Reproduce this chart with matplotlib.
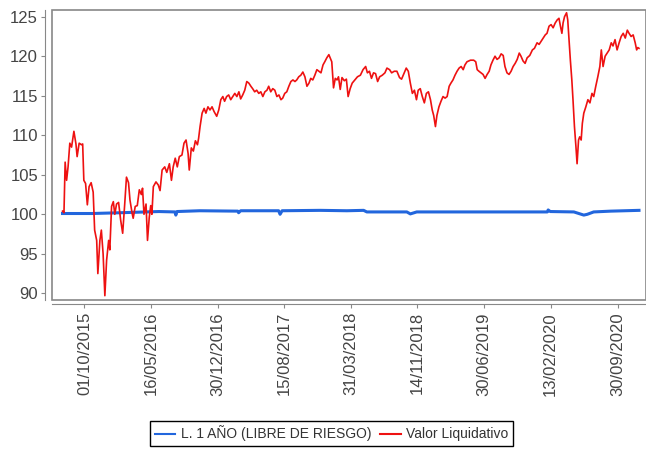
import numpy as np
import pandas as pd
import matplotlib
matplotlib.use("Agg")
import matplotlib.pyplot as plt
import matplotlib.dates as mdates
from matplotlib.lines import Line2D
from matplotlib.patches import Rectangle

# series start date; offsets below are days from this date
start_date = "2015-07-18"

# Valor Liquidativo (red)
red_days = [0, 5, 9, 14, 19, 25, 31, 39, 46, 50, 57, 65, 69, 73, 79, 85, 91, 98,
            105, 110, 117, 121, 128, 133, 139, 145, 151, 158, 162, 168, 174, 179,
            185, 192, 199, 206, 213, 219, 226, 231, 238, 242, 249, 256, 263, 270,
            274, 279, 286, 291, 297, 302, 306, 311, 320, 328, 334, 341, 350, 357,
            366, 373, 379, 386, 393, 400, 409, 416, 423, 430, 434, 441, 448, 455,
            462, 466, 471, 478, 485, 491, 498, 505, 512, 519, 528, 535, 542, 549,
            555, 562, 569, 576, 583, 590, 597, 604, 610, 617, 624, 631, 638, 645,
            651, 658, 665, 672, 679, 686, 693, 700, 706, 713, 720, 727, 734, 741,
            748, 754, 761, 768, 775, 782, 789, 796, 802, 809, 816, 823, 830, 837,
            844, 850, 857, 864, 871, 878, 885, 892, 898, 905, 912, 922, 928, 934,
            940, 945, 951, 957, 965, 972, 978, 985, 992, 1001, 1010, 1020, 1029,
            1038, 1044, 1051, 1058, 1065, 1072, 1079, 1086, 1095, 1104, 1111, 1120,
            1127, 1136, 1145, 1154, 1161, 1168, 1177, 1184, 1191, 1198, 1205, 1212,
            1218, 1225, 1232, 1239, 1246, 1253, 1260, 1266, 1271, 1277, 1282, 1289,
            1296, 1303, 1310, 1317, 1324, 1330, 1337, 1344, 1351, 1358, 1365, 1372,
            1378, 1385, 1397, 1408, 1415, 1420, 1426, 1433, 1440, 1447, 1454, 1461,
            1467, 1474, 1481, 1488, 1495, 1502, 1509, 1515, 1522, 1529, 1536, 1543,
            1550, 1557, 1564, 1570, 1577, 1584, 1591, 1600, 1609, 1616, 1625, 1632,
            1639, 1646, 1653, 1659, 1666, 1673, 1680, 1687, 1694, 1700, 1705, 1710,
            1714, 1719, 1726, 1730, 1735, 1739, 1744, 1748, 1753, 1758, 1762, 1767,
            1771, 1776, 1780, 1785, 1792, 1799, 1806, 1813, 1819, 1826, 1833, 1840,
            1845, 1851, 1858, 1865, 1872, 1879, 1885, 1892, 1899, 1906, 1913, 1920,
            1927, 1934, 1940, 1947, 1954, 1961, 1966, 1970, 1974]
red_vals = [100.4, 100.2, 106.6, 104.3, 106.0, 109.0, 108.5, 110.5, 108.9, 107.3,
            109.0, 108.8, 108.9, 104.3, 103.9, 101.2, 103.5, 104.0, 102.8, 98.0,
            96.7, 92.5, 96.7, 98.0, 95.0, 89.7, 94.2, 96.7, 95.5, 101.0, 101.6,
            100.0, 101.3, 101.5, 99.3, 97.6, 101.3, 104.7, 104.0, 101.8, 100.2,
            99.5, 101.0, 101.1, 103.1, 102.5, 103.3, 100.0, 101.3, 96.7, 99.6,
            101.1, 100.0, 103.5, 104.1, 103.7, 103.0, 105.6, 106.0, 105.3, 106.4,
            104.3, 106.0, 107.1, 106.0, 107.3, 107.5, 109.0, 109.4, 107.7, 105.6,
            108.4, 108.0, 109.3, 108.8, 109.6, 111.1, 112.8, 113.4, 112.8, 113.6,
            113.2, 113.6, 113.0, 112.4, 113.2, 114.5, 114.9, 114.3, 114.9, 115.1,
            114.5, 114.9, 115.3, 114.9, 115.5, 114.6, 115.1, 115.7, 116.8, 116.6,
            116.2, 115.9, 115.5, 115.7, 115.3, 115.5, 114.9, 115.5, 115.7, 116.2,
            115.5, 115.9, 115.7, 114.9, 115.1, 114.5, 114.7, 115.3, 115.5, 116.2,
            116.8, 117.0, 116.8, 117.0, 117.4, 117.6, 118.0, 117.4, 116.2, 116.6,
            117.2, 117.0, 117.6, 118.3, 118.1, 117.9, 118.9, 119.3, 119.8, 120.2,
            119.3, 116.0, 117.2, 117.0, 117.4, 115.8, 117.3, 116.9, 117.1, 114.9,
            115.9, 116.6, 117.0, 117.4, 117.6, 118.3, 118.7, 117.9, 118.1, 117.2,
            117.9, 117.8, 116.8, 117.4, 117.6, 117.9, 118.5, 118.3, 117.9, 118.1,
            118.1, 117.3, 117.1, 117.7, 118.5, 118.1, 116.6, 115.3, 115.7, 114.5,
            115.7, 115.9, 114.9, 114.1, 115.3, 115.5, 114.5, 113.2, 112.5, 111.1,
            112.5, 113.6, 114.3, 114.9, 114.7, 114.9, 116.2, 116.6, 117.0, 117.6,
            118.1, 118.5, 118.7, 118.3, 118.9, 119.3, 119.5, 119.5, 119.3, 118.3,
            118.1, 117.9, 117.7, 117.2, 117.7, 118.1, 118.9, 119.5, 120.0, 119.6,
            119.8, 120.3, 120.1, 118.7, 117.9, 117.7, 118.1, 118.7, 119.1, 119.6,
            120.4, 120.0, 119.4, 119.1, 119.8, 120.1, 120.8, 121.0, 121.7, 121.5,
            121.9, 122.3, 122.7, 122.9, 123.8, 124.0, 123.6, 124.2, 124.6, 124.8,
            123.8, 122.9, 124.2, 125.0, 125.5, 124.6, 121.7, 119.5, 117.0, 114.5,
            111.1, 108.6, 106.4, 109.4, 109.8, 109.4, 111.5, 112.8, 113.6, 114.5,
            114.1, 115.3, 114.9, 116.2, 117.4, 118.7, 120.8, 118.7, 120.0, 120.4,
            120.8, 121.7, 121.3, 122.1, 120.8, 121.7, 122.5, 122.9, 122.3, 123.3,
            122.9, 122.5, 122.7, 121.7, 120.8, 121.1, 121.0]

# L. 1 AÑO (LIBRE DE RIESGO) (blue)
blue_days = [0, 100, 200, 330, 385, 388, 392, 470, 600, 603, 610, 740, 745, 752,
             882, 974, 1031, 1042, 1179, 1191, 1213, 1660, 1663, 1670, 1751, 1785,
             1797, 1819, 1877, 1974]
blue_vals = [100.1, 100.1, 100.2, 100.35, 100.3, 99.9, 100.35, 100.45, 100.4, 100.2,
             100.45, 100.45, 100.0, 100.45, 100.5, 100.45, 100.5, 100.3, 100.3, 100.05,
             100.3, 100.3, 100.55, 100.35, 100.3, 99.9, 100.0, 100.3, 100.4, 100.5]

tick_dates = ["2015-10-01", "2016-05-16", "2016-12-30", "2017-08-15", "2018-03-31",
              "2018-11-14", "2019-06-30", "2020-02-13", "2020-09-30"]
y_ticks = [90, 95, 100, 105, 110, 115, 120, 125]

label_blue = "L. 1 AÑO (LIBRE DE RIESGO)"
label_red = "Valor Liquidativo"

plt.rcParams['font.family'] = ['Liberation Sans', 'DejaVu Sans']

t0 = pd.Timestamp(start_date)
red_x = [t0 + pd.Timedelta(days=d) for d in red_days]
blue_x = [t0 + pd.Timedelta(days=d) for d in blue_days]

fig = plt.figure(figsize=(6.46, 4.5), dpi=100)
ax = fig.add_axes([52 / 646, 1 - 299.5 / 450, 594 / 646, 289.5 / 450])

blue_c = "#2266dd"
red_c = "#ee1111"
ax.plot(blue_x, blue_vals, color=blue_c, lw=2.2, zorder=3)
ax.plot(red_x, red_vals, color=red_c, lw=1.2, zorder=4)

ax.set_xlim(pd.Timestamp("2015-06-12"), pd.Timestamp("2021-01-05"))
ax.set_ylim(89.22, 125.85)

ticks = pd.to_datetime(tick_dates)
ax.set_xticks(ticks)
ax.set_xticklabels([t.strftime("%d/%m/%Y") for t in ticks])
ax.set_yticks(y_ticks)

axis_c = "#888888"
for side in ["top", "right"]:
    ax.spines[side].set_visible(False)
ax.spines["left"].set_position(("outward", 5))
ax.spines["bottom"].set_position(("outward", 3))
ax.spines["left"].set_color(axis_c)
ax.spines["bottom"].set_color(axis_c)
ax.add_patch(Rectangle((0, 0), 1, 1, transform=ax.transAxes, fill=False,
                       edgecolor=axis_c, lw=1.2, clip_on=False, zorder=5))
ax.tick_params(axis="both", colors=axis_c, labelcolor="#444444", labelsize=12,
               length=3, width=0.8, pad=2)
ax.tick_params(axis="x", labelrotation=90, pad=3)

handles = [Line2D([], [], color=blue_c, lw=1.5), Line2D([], [], color=red_c, lw=1.5)]
leg = fig.legend(handles, [label_blue, label_red], ncol=2, loc="center",
                 bbox_to_anchor=(331.5 / 646, 1 - 433.5 / 450), fontsize=10,
                 frameon=True, fancybox=False, framealpha=1, edgecolor="black",
                 handlelength=1.5, handletextpad=0.4, columnspacing=0.6,
                 borderpad=0.3, borderaxespad=0)
leg.get_frame().set_linewidth(1.0)
for t in leg.get_texts():
    t.set_color("#333333")

fig.savefig("out.png", dpi=100)
